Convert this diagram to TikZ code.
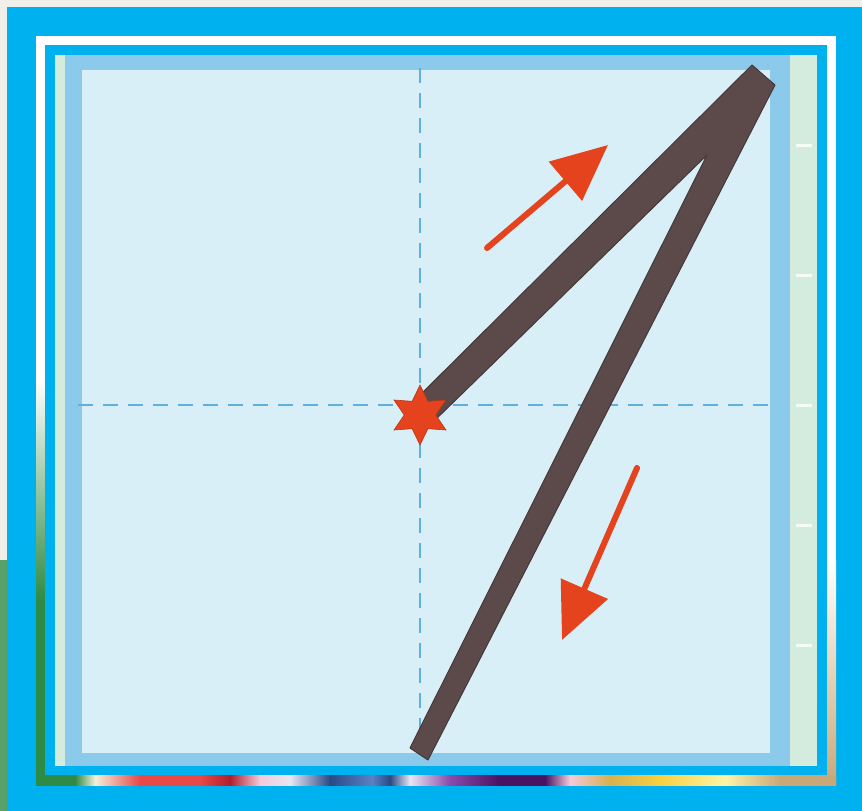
\documentclass[tikz,border=0pt]{standalone}
\usepackage{xcolor}
\usepackage{tikz}
\usetikzlibrary{arrows.meta,shapes.geometric}
\definecolor{frameblue}{HTML}{00B1EF}
\definecolor{bandblue}{HTML}{8BCAEA}
\definecolor{paper}{HTML}{D8EFF7}
\definecolor{mint}{HTML}{D3ECDD}
\definecolor{guide}{HTML}{5FB0DC}
\definecolor{ink}{HTML}{5C4A4B}
\definecolor{inkedge}{HTML}{463738}
\definecolor{hintred}{HTML}{E4431D}
\definecolor{photo}{HTML}{F1EFE9}
\definecolor{rbgreen}{HTML}{2E8B45}
\definecolor{rbcream}{HTML}{F2F0DC}
\definecolor{rbred}{HTML}{E84848}
\definecolor{rbdred}{HTML}{B01E2E}
\definecolor{rbpink}{HTML}{F4CADA}
\definecolor{rblav}{HTML}{E8E6F4}
\definecolor{rbnavy}{HTML}{2A4A86}
\definecolor{rbblue}{HTML}{5C80C2}
\definecolor{rbpurp}{HTML}{8A4AAA}
\definecolor{rbdpurp}{HTML}{4A1262}
\definecolor{rbgold}{HTML}{D8B050}
\definecolor{rbyel}{HTML}{F8D040}
\definecolor{rbpale}{HTML}{FFF4A8}
\definecolor{rbtan}{HTML}{C8A878}
\tikzset{
  guideline/.style={guide, line width=2.5pt, dash pattern=on 15pt off 10pt},
  hint/.style={hintred, line width=6pt, line cap=round, -{Triangle[length=56pt, width=50pt]}},
  digit/.style={fill=ink, draw=inkedge, line width=1pt, line join=round},
  startpt/.style={star, star points=6, star point ratio=1.9, fill=hintred,
                  draw=hintred!80!black, line width=0.6pt, minimum size=60pt, inner sep=0pt},
}

\begin{document}
\begin{tikzpicture}[x=1pt, y=-1pt]
  \useasboundingbox (0,0) rectangle (862,811);
  % photo behind the frame
  \fill[photo] (0,0) rectangle (862,811);
  \fill[rbgreen!80] (0,560) rectangle (7,811);
  % blue frame with the thin coloured band
  \fill[frameblue] (7,7) rectangle (862,811);
  \fill[white] (36,36) rectangle (836,785);
  \shade[top color=white, bottom color=rbgreen] (36,380) rectangle (45,600);
  \fill[rbgreen] (36,600) rectangle (45,785);
  \shade[top color=white, bottom color=rbtan] (827,560) rectangle (836,785);
  \foreach \xa/\ca/\xb/\cb in {36/rbgreen/75/rbgreen, 75/rbgreen/95/rbcream,
      95/rbcream/140/rbred, 140/rbred/200/rbred, 200/rbred/230/rbdred,
      230/rbdred/260/rbpink, 260/rbpink/290/rblav, 290/rblav/330/rbnavy,
      330/rbnavy/372/rbblue, 372/rbblue/390/rbnavy, 390/rbnavy/410/rblav,
      410/rblav/450/rbpurp, 450/rbpurp/500/rbdpurp, 500/rbdpurp/545/rbdpurp,
      545/rbdpurp/570/rbpink, 570/rbpink/610/rbgold, 610/rbgold/660/rbyel,
      660/rbyel/725/rbpale, 725/rbpale/780/rbtan, 780/rbtan/836/rbtan}
    \shade[left color=\ca, right color=\cb] (\xa,775) rectangle (\xb,785);
  \fill[frameblue] (45,45) rectangle (827,775);
  % card
  \fill[mint] (55,55) rectangle (817,766);
  \fill[bandblue] (65,55) rectangle (790,766);
  \fill[paper] (82,70) rectangle (770,753);
  \foreach \y in {145,275,405,525,645}
    \draw[white, opacity=0.8, line width=3pt] (796,\y) -- (812,\y);
  % guide lines
  \coordinate (gtop) at (420,68);
  \coordinate (gbot) at (420,755);
  \coordinate (gleft) at (78,405);
  \coordinate (gright) at (775,405);
  \draw[guideline] (gtop) -- (gbot);
  \draw[guideline] (gleft) -- (gright);
  % the numeral
  \fill[digit] (410,405) -- (752,65) -- (775,85) -- (428,760) -- (410,748)
    -- (707,155) -- (430,425) -- cycle;
  \node[startpt] (start) at (420,415) {};
  % stroke hints
  \coordinate (up0) at (487,248);
  \coordinate (up1) at (608,145);
  \coordinate (dn0) at (637,468);
  \coordinate (dn1) at (562,640);
  \draw[hint] (up0) -- (up1);
  \draw[hint] (dn0) -- (dn1);
\end{tikzpicture}
\end{document}
